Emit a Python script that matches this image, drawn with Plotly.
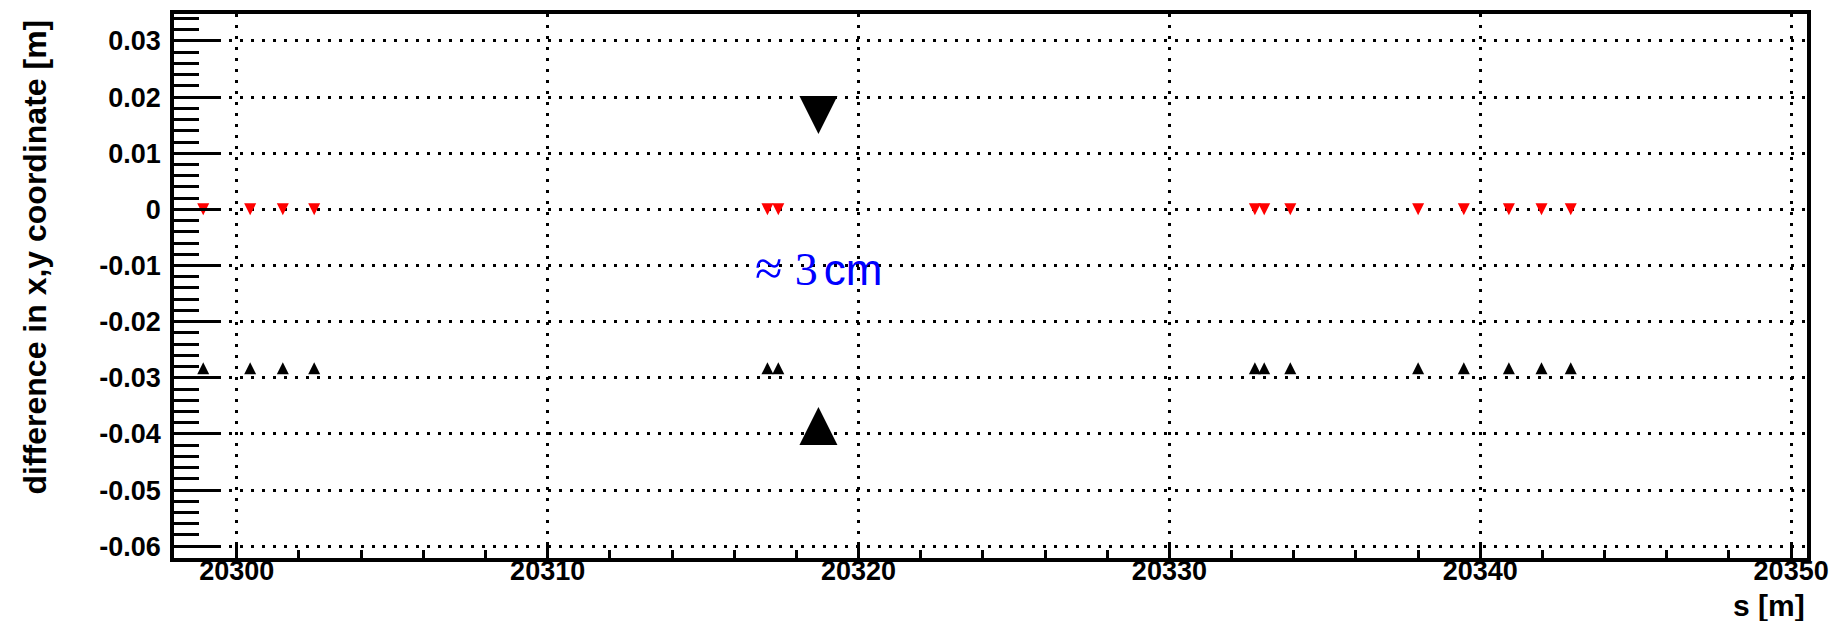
import plotly.graph_objects as go

# Quadrupole positions along the beam line, s [m]
s_pos = [20298.92, 20300.43, 20301.48, 20302.49, 20317.07, 20317.42,
         20332.75, 20333.05, 20333.89, 20338.00, 20339.47, 20340.92,
         20341.97, 20342.91]

# Coordinate differences [m]
diff_red = [0.0, 0.0, 0.0, 0.0, 0.0, 0.0, 0.0,
            0.0, 0.0, 0.0, 0.0, 0.0, 0.0, 0.0]
diff_black = [-0.0283, -0.0283, -0.0283, -0.0283, -0.0283, -0.0283, -0.0283,
              -0.0283, -0.0283, -0.0283, -0.0283, -0.0283, -0.0283, -0.0283]

# Large markers bracketing the offset
big_s = [20318.71]
big_down_y = [0.0168]
big_up_y = [-0.0386]

# Offset label
label_s = 20318.71
label_y = -0.0104
label_text = ('<span style="font-family:\'Liberation Serif\';font-size:50px">\u2248</span> '
              '<span style="font-family:\'Liberation Serif\';font-size:46px">3</span>'
              '<span style="font-size:22px"> </span>cm')

# Axis ticks
x_ticks = [20300, 20310, 20320, 20330, 20340, 20350]
x_tick_text = ["20300", "20310", "20320", "20330", "20340", "20350"]
y_ticks = [0.03, 0.02, 0.01, 0.0, -0.01, -0.02, -0.03, -0.04, -0.05, -0.06]
y_tick_text = ["0.03", "0.02", "0.01", "0", "-0.01", "-0.02", "-0.03",
               "-0.04", "-0.05", "-0.06"]

x_range = [20297.98, 20350.51]
y_range = [-0.0621, 0.0348]

BOLD = dict(family="Liberation Sans", color="black", weight="bold")


def tri(symbol_size, color, pointing_up):
    # "arrow-down" with a half-size standoff is a triangle centred on its point;
    # rotating it by 180 degrees turns it upward
    return dict(symbol="arrow-down", size=symbol_size, standoff=symbol_size / 2,
                angle=180 if pointing_up else 0, color=color, line=dict(width=0))


fig = go.Figure()
fig.add_trace(go.Scatter(x=s_pos, y=diff_red, mode="markers",
                         marker=tri(12, "#ff0000", False), hoverinfo="skip"))
fig.add_trace(go.Scatter(x=s_pos, y=diff_black, mode="markers",
                         marker=tri(12, "black", True), hoverinfo="skip"))
fig.add_trace(go.Scatter(x=big_s, y=big_down_y, mode="markers",
                         marker=tri(38, "black", False), hoverinfo="skip"))
fig.add_trace(go.Scatter(x=big_s, y=big_up_y, mode="markers",
                         marker=tri(38, "black", True), hoverinfo="skip"))

axis_common = dict(
    showline=True, linewidth=3.5, linecolor="black", mirror=True,
    ticks="inside", tickcolor="black", tickwidth=2.5,
    showgrid=True, gridcolor="black", gridwidth=2.5, griddash="3px,8px",
    zeroline=False, tickfont=dict(size=27, **BOLD),
)

fig.update_layout(
    width=1843, height=621,
    margin=dict(l=174, r=36, t=10, b=63),
    paper_bgcolor="white", plot_bgcolor="white",
    showlegend=False,
    xaxis=dict(range=x_range, tickmode="array", tickvals=x_ticks,
               ticktext=x_tick_text, ticklen=16, ticklabelstandoff=-14,
               minor=dict(dtick=2, tick0=20300, ticklen=8, ticks="inside",
                          tickcolor="black", tickwidth=2.5, showgrid=False),
               **axis_common),
    yaxis=dict(range=y_range, tickmode="array", tickvals=y_ticks,
               ticktext=y_tick_text, ticklen=45, ticklabelstandoff=4,
               minor=dict(dtick=0.002, tick0=0, ticklen=25, ticks="inside",
                          tickcolor="black", tickwidth=2.5, showgrid=False),
               **axis_common),
    annotations=[
        dict(text="difference in x,y coordinate [m]", textangle=-90,
             xref="paper", yref="paper", x=0, y=1, xshift=-140, yshift=-4,
             xanchor="center", yanchor="top", showarrow=False,
             font=dict(size=32, **BOLD)),
        dict(text="s [m]", xref="paper", yref="paper", x=1, y=0, yshift=-47,
             xanchor="right", yanchor="middle", showarrow=False,
             font=dict(size=30, **BOLD)),
        dict(text=label_text, x=label_s, y=label_y, xref="x", yref="y",
             xanchor="center", yanchor="middle", showarrow=False,
             font=dict(family="Liberation Sans", size=44, color="#0000ff")),
    ],
)

fig.write_html("out.html")
